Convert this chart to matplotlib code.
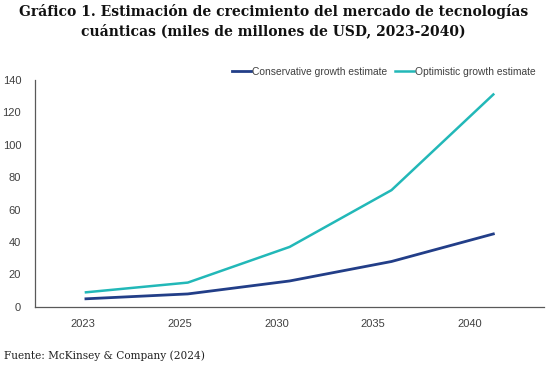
import matplotlib
matplotlib.use("Agg")
import matplotlib.pyplot as plt
from matplotlib.font_manager import FontProperties
import numpy as np

years = ["2023", "2025", "2030", "2035", "2040"]
conservative = [5, 8, 16, 28, 45]
optimistic = [9, 15, 37, 72, 131]
yticks = [0, 20, 40, 60, 80, 100, 120, 140]

def sans(size):
    return FontProperties(family="Liberation Sans", size=size)

fig = plt.figure(figsize=(5.47, 3.68), dpi=100)
ax = fig.add_axes([0.064, 0.166, 0.931, 0.617])

x = np.arange(len(years))
ax.plot(x, conservative, color="#223e88", lw=2.0, label="Conservative growth estimate")
ax.plot(x, optimistic, color="#22b8b8", lw=1.8, label="Optimistic growth estimate")

ax.set_xlim(-0.5, len(years) - 0.5)
ax.set_ylim(0, 140)
ax.set_yticks(yticks)
ax.set_xticks(x * 0.95 - 0.03)
ax.set_xticklabels(years)
for lab in ax.get_xticklabels() + ax.get_yticklabels():
    lab.set_fontproperties(sans(8))
    lab.set_color("#404040")
ax.tick_params(axis="both", length=0)
ax.tick_params(axis="x", pad=9)
ax.tick_params(axis="y", pad=10)
for s in ["top", "right"]:
    ax.spines[s].set_visible(False)
for s in ["left", "bottom"]:
    ax.spines[s].set_color("#595959")
    ax.spines[s].set_linewidth(0.9)

leg = ax.legend(loc="center right", bbox_to_anchor=(536 / 547, 1 - 72 / 368),
                bbox_transform=fig.transFigure, ncol=2, frameon=False,
                prop=sans(7.4), handlelength=1.85, borderpad=0, borderaxespad=0,
                handletextpad=0.1, columnspacing=0.8)
for t in leg.get_texts():
    t.set_color("#404040")

fig.text(0.5, 0.988, "Gráfico 1. Estimación de crecimiento del mercado de tecnologías\ncuánticas (miles de millones de USD, 2023-2040)",
         ha="center", va="top", fontfamily="DejaVu Serif", fontweight="bold", fontsize=10,
         linespacing=1.3, color="#111111")
fig.text(0.007, 0.02, "Fuente: McKinsey & Company (2024)", ha="left", va="bottom",
         fontfamily="DejaVu Serif", fontsize=7.6, color="#222222")

fig.savefig("out.png", dpi=100)
